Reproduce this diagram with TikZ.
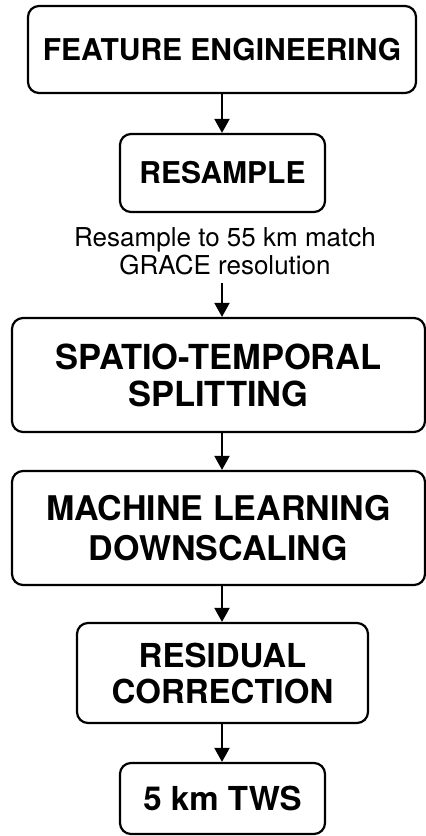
\documentclass[tikz,border=0pt]{standalone}
\usepackage{fontspec}
\setmainfont{TeX Gyre Heros}
\usetikzlibrary{arrows.meta}
\begin{document}
\begin{tikzpicture}[x=1pt,y=1pt,
  stage/.style={draw=black, line width=2.2pt, rounded corners=11pt,
    align=center, inner sep=0pt, font=\bfseries},
  flow/.style={-{Triangle[length=14pt,width=15pt]}, line width=2pt}]
  \useasboundingbox (0,0) rectangle (426,-836);
  % processing stages, top to bottom
  \node[stage, minimum width=388pt, minimum height=87pt,
        font=\bfseries\fontsize{30}{36}\selectfont]
        (fe) at (222,-49.5) {FEATURE ENGINEERING};
  \node[stage, minimum width=205pt, minimum height=78pt,
        font=\bfseries\fontsize{30}{34}\selectfont]
        (rs) at (222.5,-173) {RESAMPLE};
  \node[align=center, inner sep=0pt, font=\fontsize{26}{28}\selectfont]
        (note) at (225,-251) {Resample to 55 km match\\GRACE resolution};
  \node[stage, minimum width=413pt, minimum height=114pt,
        font=\bfseries\fontsize{34.5}{37}\selectfont]
        (st) at (218.5,-375) {SPATIO-TEMPORAL\\SPLITTING};
  \node[stage, minimum width=413pt, minimum height=114pt,
        font=\bfseries\fontsize{34}{40}\selectfont]
        (ml) at (218.5,-528) {MACHINE LEARNING\\DOWNSCALING};
  \node[stage, minimum width=291pt, minimum height=100pt,
        font=\bfseries\fontsize{33}{36}\selectfont]
        (rc) at (222.5,-673) {RESIDUAL\\CORRECTION};
  \node[stage, minimum width=205pt, minimum height=71pt,
        font=\bfseries\fontsize{33}{34}\selectfont]
        (tws) at (222.5,-798.5) {5 km TWS};
  % connectors
  \coordinate (noteend) at (222,-283);
  \draw[flow] (fe.south -| 222,0) -- (rs.north -| 222,0);
  \draw[flow] (noteend) -- (st.north -| noteend);
  \draw[flow] (st.south -| 222,0) -- (ml.north -| 222,0);
  \draw[flow] (ml.south -| 222,0) -- (rc.north -| 222,0);
  \draw[flow] (rc.south -| 222,0) -- (tws.north -| 222,0);
\end{tikzpicture}
\end{document}
